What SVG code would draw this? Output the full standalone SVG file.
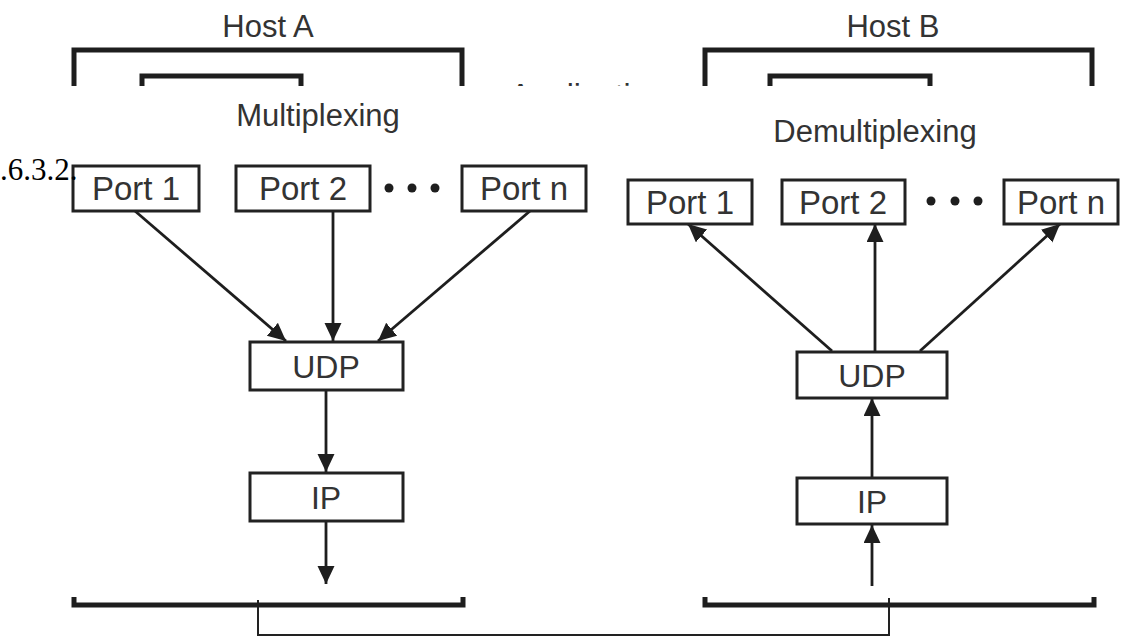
<svg xmlns="http://www.w3.org/2000/svg" width="1122" height="639" viewBox="0 0 1122 639">
  <style>
    .lbl { font-family: "Liberation Sans", Arial, sans-serif; fill: #333; text-anchor: middle; }
    .port { font-size: 33px; }
    .layer { font-size: 32px; }
    .title { font-size: 31px; }
    .box { fill: #fff; stroke: #222; stroke-width: 3; }
    .thick { fill: none; stroke: #1e1e1e; stroke-width: 5; }
    .wire { fill: none; stroke: #1e1e1e; stroke-width: 2.8; }
    .thin { fill: none; stroke: #222; stroke-width: 2; }
  </style>
  <defs>
    <marker id="arr" markerUnits="userSpaceOnUse" markerWidth="20" markerHeight="18" refX="18" refY="8.5" orient="auto">
      <path d="M0,0 L18,8.5 L0,17 z" fill="#1e1e1e"/>
    </marker>
    <clipPath id="topclip"><rect x="0" y="0" width="1122" height="86"/></clipPath>
  </defs>
  <rect width="1122" height="639" fill="#fff"/>

  <g id="top-remnant" clip-path="url(#topclip)">
    <text class="lbl title" x="268" y="37">Host A</text>
    <text class="lbl title" x="893" y="37">Host B</text>
    <path class="thick" d="M74,95 V50 H462 V95"/>
    <path class="thick" d="M142,95 V76 H301 V95"/>
    <path class="thick" d="M705,95 V50 H1092 V95"/>
    <path class="thick" d="M770,95 V76 H930 V95"/>
    <text class="lbl" x="588" y="106" font-size="32">Application</text>
  </g>

  <text class="lbl title" x="318" y="126">Multiplexing</text>
  <text class="lbl title" x="875" y="142">Demultiplexing</text>

  <g id="connectors">
    <line class="wire" x1="135" y1="211" x2="286" y2="341" marker-end="url(#arr)"/>
    <line class="wire" x1="333" y1="211" x2="333" y2="341" marker-end="url(#arr)"/>
    <line class="wire" x1="530" y1="211" x2="378" y2="341" marker-end="url(#arr)"/>
    <line class="wire" x1="326" y1="390" x2="326" y2="472" marker-end="url(#arr)"/>
    <line class="wire" x1="326" y1="521" x2="326" y2="584" marker-end="url(#arr)"/>
    <line class="wire" x1="832" y1="351" x2="688" y2="224" marker-end="url(#arr)"/>
    <line class="wire" x1="875" y1="351" x2="875" y2="224" marker-end="url(#arr)"/>
    <line class="wire" x1="920" y1="351" x2="1060" y2="224" marker-end="url(#arr)"/>
    <line class="wire" x1="872" y1="478" x2="872" y2="398" marker-end="url(#arr)"/>
    <line class="wire" x1="872" y1="586" x2="872" y2="525" marker-end="url(#arr)"/>
    <path class="thin" d="M258,600 V635 H889 V598"/>
  </g>

  <g id="a-port1"><rect class="box" x="73" y="166" width="126" height="45"/><text class="lbl port" x="136" y="200">Port 1</text></g>
  <g id="a-port2"><rect class="box" x="236" y="166" width="134" height="45"/><text class="lbl port" x="303" y="200">Port 2</text></g>
  <g id="a-dots" fill="#1e1e1e"><circle cx="389" cy="188" r="4.5"/><circle cx="412" cy="188" r="4.5"/><circle cx="435" cy="188" r="4.5"/></g>
  <g id="a-portn"><rect class="box" x="462" y="166" width="124" height="45"/><text class="lbl port" x="524" y="200">Port n</text></g>
  <g id="a-udp"><rect class="box" x="250" y="342" width="153" height="48"/><text class="lbl layer" x="326" y="378">UDP</text></g>
  <g id="a-ip"><rect class="box" x="250" y="473" width="153" height="48"/><text class="lbl layer" x="326" y="509">IP</text></g>

  <g id="b-port1"><rect class="box" x="628" y="180" width="124" height="44"/><text class="lbl port" x="690" y="214">Port 1</text></g>
  <g id="b-port2"><rect class="box" x="782" y="180" width="123" height="44"/><text class="lbl port" x="843" y="214">Port 2</text></g>
  <g id="b-dots" fill="#1e1e1e"><circle cx="931" cy="201" r="4.5"/><circle cx="955" cy="201" r="4.5"/><circle cx="978" cy="201" r="4.5"/></g>
  <g id="b-portn"><rect class="box" x="1004" y="180" width="114" height="44"/><text class="lbl port" x="1061" y="214">Port n</text></g>
  <g id="b-udp"><rect class="box" x="797" y="352" width="150" height="46"/><text class="lbl layer" x="872" y="387">UDP</text></g>
  <g id="b-ip"><rect class="box" x="797" y="478" width="150" height="46"/><text class="lbl layer" x="872" y="513">IP</text></g>

  <g id="network-a"><path class="thick" d="M74,597 V605 H463 V597"/></g>
  <g id="network-b"><path class="thick" d="M705,597 V605 H1094 V597"/></g>

  <text x="0" y="180" font-family="Liberation Serif, serif" font-size="31" fill="#000">.6.3.2.</text>
</svg>
